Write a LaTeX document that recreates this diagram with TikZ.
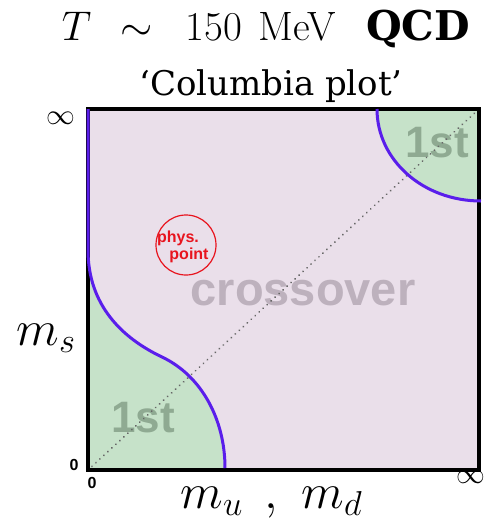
\documentclass[tikz,border=0pt]{standalone}
\usepackage{fontspec}
\newfontfamily\labelfont{Liberation Sans}
\newfontfamily\titlefont{DejaVu Serif}
\definecolor{crossfill}{HTML}{EADFEA}
\definecolor{firstfill}{HTML}{C6E2C9}
\definecolor{lineblue}{HTML}{5A1EEB}
\definecolor{firsttext}{HTML}{8FAA92}
\definecolor{crosstext}{HTML}{BDB1BD}
\definecolor{physred}{HTML}{E8141E}
\definecolor{diaggray}{HTML}{666666}

\begin{document}
\begin{tikzpicture}[
						x=0.5pt, y=-0.5pt,
						frame/.style={draw=black, line width=1.6pt},
						transition/.style={draw=lineblue, line width=1.5pt},
						phase/.style={text=firsttext, font=\labelfont\bfseries\fontsize{22}{26}\selectfont},
						cross/.style={text=crosstext, font=\labelfont\bfseries\fontsize{23.5}{27}\selectfont},
						tick/.style={font=\labelfont\bfseries\fontsize{8}{9}\selectfont, inner sep=0pt},
						infty/.style={font=\fontsize{14}{16}\selectfont, inner sep=0pt},
						axis/.style={font=\fontsize{24}{28}\selectfont, inner sep=0pt},
						phystext/.style={text=physred, font=\labelfont\bfseries\fontsize{8}{9}\selectfont, inner sep=0pt, anchor=base}
					]
					\useasboundingbox (0,0) rectangle (489,521);

					\coordinate (sw) at (88,470);
					\coordinate (ne) at (479,109);
					\coordinate (nw) at (88,109);
					\coordinate (se) at (479,470);

					% regions
					\fill[crossfill] (sw) rectangle (ne);
					\fill[firstfill] (88,250) .. controls (88,305) and (122,338) .. (162,357)
						.. controls (202,376) and (225,420) .. (225,470) -- (sw) -- cycle;
					\fill[firstfill] (377,109) .. controls (377,160) and (423,201) .. (479,201) -- (ne) -- cycle;

					\node[phase] (firstlow) at (143,418) {1st};
					\node[phase] (firsthigh) at (437,143) {1st};
					\node[cross] (crossover) at (303,293) {crossover};

					\draw[diaggray, line width=1pt, line cap=round, dash pattern=on 0.01pt off 2.7pt] (sw) -- (ne);

					\draw[frame] (nw) rectangle (se);

					% first order lines
					\draw[transition] (nw) -- (88,250) .. controls (88,305) and (122,338) .. (162,357)
						.. controls (202,376) and (225,420) .. (225,468);
					\draw[transition] (377,109) .. controls (377,160) and (423,201) .. (481,201);

					\node[circle, draw=physred, line width=0.6pt, minimum size=30pt, inner sep=0pt] (phys) at (186,245) {};
					\node[phystext] (physa) at (178,242) {phys.};
					\node[phystext] (physb) at (189,259) {point};

					% axes
					\node[tick] (zeroleft) at (74,465) {0};
					\node[tick] (zerobottom) at (92,483) {0};
					\node[infty] (inftop) at (61,118) {$\infty$};
					\node[infty] (infright) at (471,477) {$\infty$};
					\node[axis, anchor=base west] (ms) at (16,345) {$m_s$};
					\node[axis, anchor=base west, font=\fontsize{26}{30}\selectfont] (mud) at (180,508) {$m_u\hspace{0.4em},\hspace{0.3em}m_d$};

					% title
					\node[anchor=base, font=\fontsize{20.5}{24}\selectfont] (temp) at (266,40)
						{$T$\hspace{0.72em}$\sim$\hspace{0.8em}150\hspace{0.4em}MeV\hspace{0.75em}{\titlefont\bfseries QCD}};
					\node[anchor=base, font=\titlefont\fontsize{17}{20}\selectfont] (columbia) at (271,95) {‘Columbia plot’};
				\end{tikzpicture}
\end{document}
